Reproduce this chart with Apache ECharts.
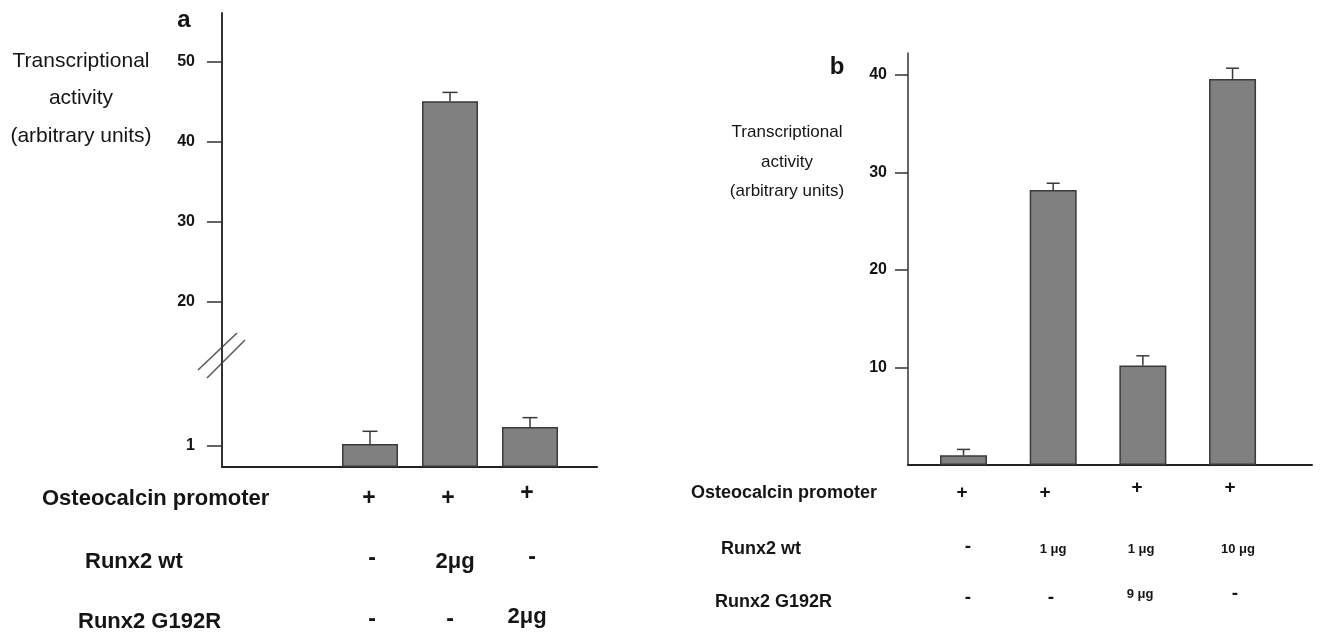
<!DOCTYPE html>
<html>
<head>
<meta charset="utf-8">
<script src="https://cdn.jsdelivr.net/npm/echarts@6/dist/echarts.min.js"></script>
<style>
  html, body { margin: 0; padding: 0; background: #fff; }
  #chart { width: 1326px; height: 634px; }
</style>
</head>
<body>
<div id="chart"></div>
<script>
// panel a (broken y axis)
const aPositions = [1, 2, 3]
const aValues = [1.1, 45.1, 1.9]
const aErrors = [0.6, 1.1, 0.45]
const aTicks = [1, 20, 30, 40, 50]

// panel b
const bPositions = [1, 2, 3, 4]
const bValues = [1.0, 28.2, 10.2, 39.6]
const bErrors = [0.6, 0.7, 1.0, 1.1]
const bTicks = [10, 20, 30, 40]

const yTitle = ['Transcriptional', 'activity', '(arbitrary units)']
const rowNames = ['Osteocalcin promoter', 'Runx2 wt', 'Runx2 G192R']
const aRows = [['+', '+', '+'], ['-', '2μg', '-'], ['-', '-', '2μg']]
const bRows = [['+', '+', '+', '+'], ['-', '1 μg', '1 μg', '10 μg'], ['-', '-', '9 μg', '-']]

// broken scale of panel a: 0..3 stretched, 15.. normal, gap in between
function toA(v) {
  if (v <= 3) return v * 2.625
  if (v >= 15) return v + 0.625
  return 7.875 + (v - 3) * (15.625 - 7.875) / 12
}
const same = v => v

const FONT = '"Liberation Sans", Arial, sans-serif'
const INK = '#151515'

function txt(str, x, y, size, weight, align) {
  return {
    type: 'text', x: x, y: y, silent: true,
    style: {
      text: str, fill: INK,
      font: weight + ' ' + size + 'px ' + FONT,
      align: align, textAlign: align,
      verticalAlign: 'middle', textVerticalAlign: 'middle'
    }
  }
}

function yAxisOpt(gridIndex, max, ticks, map, tickLen, margin, lineW) {
  const tickVals = ticks.map(map)
  return {
    type: 'value', gridIndex: gridIndex, min: 0, max: max,
    splitLine: { show: false },
    axisLine: { show: true, onZero: false, lineStyle: { color: '#333', width: lineW } },
    axisTick: { show: true, customValues: tickVals, length: tickLen, lineStyle: { color: '#333', width: 1.5 } },
    axisLabel: {
      customValues: tickVals, margin: margin,
      color: INK, fontFamily: FONT, fontWeight: 'bold', fontSize: 16,
      formatter: function (val) {
        const i = tickVals.findIndex(t => Math.abs(t - val) < 1e-6)
        return i >= 0 ? String(ticks[i]) : ''
      }
    }
  }
}

function xAxisOpt(gridIndex, min, max) {
  return {
    type: 'value', gridIndex: gridIndex, min: min, max: max,
    splitLine: { show: false }, axisTick: { show: false }, axisLabel: { show: false },
    axisLine: { show: true, onZero: false, lineStyle: { color: '#222', width: 2 } }
  }
}

function barSeries(idx, pos, vals, map, width) {
  return {
    type: 'bar', xAxisIndex: idx, yAxisIndex: idx, barWidth: width,
    data: pos.map((p, i) => [p, map(vals[i])]),
    itemStyle: { color: '#808080', borderColor: '#3a3a3a', borderWidth: 1.5 },
    z: 3
  }
}

function errSeries(idx, pos, vals, errs, map, capHalf) {
  return {
    type: 'custom', xAxisIndex: idx, yAxisIndex: idx, z: 4,
    data: pos.map((p, i) => [p, map(vals[i]), map(vals[i] + errs[i])]),
    encode: { x: 0, y: [1, 2] },
    renderItem: function (params, api) {
      const top = api.coord([api.value(0), api.value(1)])
      const cap = api.coord([api.value(0), api.value(2)])
      const st = { stroke: '#3a3a3a', lineWidth: 1.5 }
      return {
        type: 'group',
        children: [
          { type: 'line', shape: { x1: top[0], y1: top[1], x2: cap[0], y2: cap[1] }, style: st },
          { type: 'line', shape: { x1: cap[0] - capHalf, y1: cap[1], x2: cap[0] + capHalf, y2: cap[1] }, style: st }
        ]
      }
    }
  }
}

// titles and the condition table below the panels
const graphics = []
graphics.push(txt('a', 184, 20, 24, 'bold', 'center'))
graphics.push(txt('b', 837, 67, 24, 'bold', 'center'))
const aTitleY = [61, 98, 136]
const bTitleY = [132, 162, 191]
yTitle.forEach((s, i) => {
  graphics.push(txt(s, 81, aTitleY[i], 21, 'normal', 'center'))
  graphics.push(txt(s, 787, bTitleY[i], 17, 'normal', 'center'))
})

const aRowY = [499, 562, 622]
const aRowX = [42, 85, 78]
const aColX = [[369, 448, 527], [372, 455, 532], [372, 450, 527]]
const aCellDy = [[0, 0, -5], [-3, 0, -4], [-2, -2, -5]]
rowNames.forEach((s, r) => {
  graphics.push(txt(s, aRowX[r], aRowY[r], 22, 'bold', 'left'))
  aRows[r].forEach((c, j) => {
    graphics.push(txt(c, aColX[r][j], aRowY[r] + aCellDy[r][j], c.length > 1 ? 22 : 23, 'bold', 'center'))
  })
})

const bRowY = [493, 549, 602]
const bRowX = [691, 721, 715]
const bColX = [[962, 1045, 1137, 1230], [968, 1053, 1141, 1238], [968, 1051, 1140, 1235]]
const bCellDy = [[0, 0, -5, -5], [-2, 0, 0, 0], [-4, -4, -8, -8]]
rowNames.forEach((s, r) => {
  graphics.push(txt(s, bRowX[r], bRowY[r], 18, 'bold', 'left'))
  bRows[r].forEach((c, j) => {
    graphics.push(txt(c, bColX[r][j], bRowY[r] + bCellDy[r][j], c.length > 1 ? 13 : 19, 'bold', 'center'))
  })
})

// axis break marks on panel a
graphics.push({ type: 'line', silent: true, shape: { x1: 198, y1: 370, x2: 237, y2: 333 }, style: { stroke: '#555', lineWidth: 1.5 } })
graphics.push({ type: 'line', silent: true, shape: { x1: 207, y1: 378, x2: 245, y2: 340 }, style: { stroke: '#555', lineWidth: 1.5 } })

const chart = echarts.init(document.getElementById('chart'), null, { renderer: 'canvas' })
chart.setOption({
  animation: false,
  backgroundColor: '#fff',
  grid: [
    { left: 222, top: 13, width: 375, height: 454 },
    { left: 908, top: 53, width: 404, height: 412 }
  ],
  xAxis: [xAxisOpt(0, -0.85, 3.8375), xAxisOpt(1, 0.381, 4.886)],
  yAxis: [
    yAxisOpt(0, 56.75, aTicks, toA, 15, 27, 2),
    yAxisOpt(1, 42.26, bTicks, same, 13, 21, 1.5)
  ],
  series: [
    barSeries(0, aPositions, aValues, toA, 56),
    errSeries(0, aPositions, aValues, aErrors, toA, 7.5),
    barSeries(1, bPositions, bValues, same, 47),
    errSeries(1, bPositions, bValues, bErrors, same, 6.5)
  ],
  graphic: graphics
})
</script>
</body>
</html>
